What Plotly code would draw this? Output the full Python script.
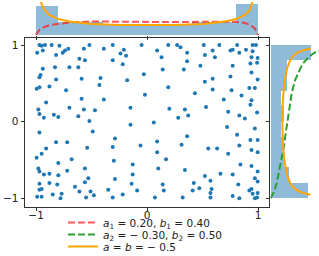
import plotly.graph_objects as go

# ---- scatter sample ----
pts_x = [-0.97,-0.95,-0.92,-0.86,-0.79,-0.52,-0.31,-0.05,-0.71,-0.74,-0.76,-0.94,-0.99,-0.57,-0.39,-0.21,-0.82,-0.24,-0.19,-0.61,
         -0.56,-0.31,-0.22,-0.94,-0.83,-0.70,-0.62,-0.96,-0.97,-0.82,-0.59,-0.42,-0.18,-0.03,-0.43,-0.995,-0.97,-0.88,-0.73,-0.59,
         -0.39,-0.02,-0.91,-0.98,-0.97,-0.93,-0.84,-0.80,-0.70,-0.57,-0.47,-0.62,-0.52,-0.15,
         0.19,0.27,0.30,0.51,0.65,0.81,0.95,0.98,0.09,0.36,0.59,0.75,0.77,0.83,0.89,0.95,0.13,0.52,0.61,0.94,
         0.995,0.36,0.48,0.77,0.93,0.99,0.14,0.33,0.94,0.52,0.59,0.75,0.995,0.19,0.43,0.59,0.76,0.92,0.97,0.85,
         0.69,0.94,0.53,0.93,0.20,0.34,0.28,0.37,0.73,0.83,0.88,0.99,0.06,
         -0.15,-0.97,-0.49,-0.29,-0.82,-0.72,-0.91,-0.54,-0.31,-0.06,-0.95,-0.995,-0.68,-0.30,-0.80,-0.13,-0.98,-0.97,-0.72,-0.56,
         -0.93,-0.88,-0.80,-0.13,-0.53,-0.29,-0.97,-0.88,-0.81,-0.56,-0.14,-0.65,-0.97,-0.95,-0.61,-0.51,-0.35,-0.09,-0.85,-0.77,
         -0.48,-0.22,-0.99,-0.95,-0.78,-0.55,-0.31,
         0.72,0.97,0.36,0.81,0.09,0.31,0.83,0.93,0.995,0.09,0.55,0.63,0.73,0.94,0.995,0.17,0.84,0.94,0.10,0.34,
         0.995,0.52,0.66,0.77,0.57,0.97,0.995,0.42,0.14,0.82,0.15,0.41,0.47,0.58,0.57,0.92,0.94,0.95,0.995,0.07,
         0.32,0.57,0.77,0.83,0.97,0.99]
pts_y = [1.00,0.99,1.00,1.00,0.99,1.00,1.00,1.00,0.95,0.93,0.90,0.93,0.90,0.95,0.95,0.94,0.87,0.89,0.86,0.82,
         0.80,0.80,0.75,0.69,0.71,0.71,0.71,0.61,0.58,0.55,0.56,0.57,0.54,0.62,0.48,0.43,0.45,0.46,0.41,0.30,
         0.29,0.35,0.25,0.16,0.10,0.05,0.09,0.06,0.18,0.16,0.15,0.07,0.01,0.18,
         1.00,1.00,0.97,1.00,1.00,1.00,1.00,1.00,0.93,0.90,0.93,0.93,0.94,0.90,0.94,0.92,0.84,0.87,0.84,0.84,
         0.83,0.79,0.73,0.73,0.76,0.77,0.68,0.68,0.64,0.52,0.56,0.59,0.55,0.45,0.37,0.42,0.41,0.44,0.44,0.34,
         0.29,0.28,0.19,0.22,0.17,0.16,0.05,0.08,0.13,0.08,0.04,0.12,-0.01,
         -0.04,-0.14,-0.13,-0.22,-0.27,-0.27,-0.35,-0.34,-0.33,-0.31,-0.42,-0.47,-0.49,-0.51,-0.54,-0.56,-0.61,-0.65,-0.64,-0.61,
         -0.69,-0.68,-0.70,-0.69,-0.74,-0.75,-0.81,-0.80,-0.82,-0.79,-0.81,-0.85,-0.89,-0.88,-0.91,-0.91,-0.89,-0.90,-0.95,-0.94,
         -0.96,-0.95,-0.98,-0.98,-1.00,-0.99,-0.99,
         -0.07,-0.09,-0.19,-0.17,-0.26,-0.30,-0.31,-0.24,-0.24,-0.40,-0.35,-0.35,-0.42,-0.37,-0.40,-0.49,-0.56,-0.58,-0.61,-0.63,
         -0.65,-0.71,-0.68,-0.69,-0.77,-0.74,-0.78,-0.80,-0.82,-0.82,-0.90,-0.90,-0.87,-0.88,-0.93,-0.90,-0.88,-0.94,-0.93,-0.99,
         -0.99,-0.99,-0.97,-1.00,-1.00,-0.99]

# ---- marginal histograms (density per bin, bins of width 0.2 on [-1, 1]) ----
bin_centers = [-0.9, -0.7, -0.5, -0.3, -0.1, 0.1, 0.3, 0.5, 0.7, 0.9]
bin_width = 0.2
top_hist = [0.98, 0.43, 0.43, 0.33, 0.33, 0.33, 0.33, 0.42, 0.42, 1.02]
right_hist = [1.00, 0.49, 0.35, 0.35, 0.26, 0.36, 0.26, 0.43, 0.43, 1.09]

# ---- density curves ----
red_x = [-1.0, -0.99, -0.97, -0.93, -0.88, -0.8, -0.7, -0.5, -0.25, 0.0, 0.25, 0.5, 0.7, 0.8, 0.88, 0.93, 0.97, 0.99, 1.0]
red_y = [0.0, 0.08, 0.17, 0.26, 0.33, 0.38, 0.42, 0.45, 0.44, 0.43, 0.43, 0.44, 0.45, 0.44, 0.40, 0.33, 0.22, 0.10, 0.0]
orange_top_x = [-0.995, -0.97, -0.95, -0.92, -0.88, -0.8, -0.7, -0.5, -0.25, 0.0, 0.25, 0.5, 0.7, 0.8, 0.88, 0.92, 0.95, 0.97, 0.995]
orange_top_y = [3.2, 1.31, 1.02, 0.81, 0.67, 0.53, 0.45, 0.37, 0.33, 0.32, 0.33, 0.37, 0.45, 0.53, 0.67, 0.81, 1.02, 1.31, 3.2]
green_y = [-1.0, -0.92, -0.8, -0.68, -0.5, -0.33, -0.15, 0.01, 0.2, 0.39, 0.55, 0.65, 0.75, 0.82, 0.87, 0.91, 0.94]
green_d = [0.0, 0.09, 0.17, 0.22, 0.30, 0.36, 0.41, 0.46, 0.51, 0.58, 0.67, 0.76, 0.86, 0.99, 1.10, 1.22, 1.40]
orange_r_y = [-0.955, -0.93, -0.9, -0.85, -0.8, -0.7, -0.5, -0.25, 0.0, 0.25, 0.5, 0.7, 0.8, 0.85, 0.9, 0.93, 0.955]
orange_r_d = [1.08, 0.87, 0.73, 0.60, 0.53, 0.45, 0.37, 0.33, 0.32, 0.33, 0.37, 0.45, 0.53, 0.60, 0.73, 0.87, 1.08]

labels = ["<i>a</i><sub>1</sub> = 0.20, <i>b</i><sub>1</sub> = 0.40",
          "<i>a</i><sub>2</sub> = \u2212 0.30, <i>b</i><sub>2</sub> = 0.50",
          "<i>a</i> = <i>b</i> = \u2212 0.5"]
tick_vals = [-1, 0, 1]

W, H = 319, 256
FONT = "DejaVu Sans"
BLUE = "#1f77b4"
HIST = "rgba(31,119,180,0.5)"
RED = "rgba(255,30,30,0.75)"
GREEN = "#2ca02c"
ORANGE = "#ffa500"

fig = go.Figure()
fig.add_trace(go.Scatter(x=pts_x, y=pts_y, mode="markers", xaxis="x", yaxis="y",
                         marker=dict(color=BLUE, size=4.0, line=dict(width=0)), showlegend=False))
fig.add_trace(go.Bar(x=bin_centers, y=top_hist, width=bin_width, xaxis="x2", yaxis="y2",
                     marker=dict(color=HIST, line=dict(width=0)), showlegend=False))
fig.add_trace(go.Bar(y=bin_centers, x=right_hist, width=bin_width, orientation="h", xaxis="x3", yaxis="y3",
                     marker=dict(color=HIST, line=dict(width=0)), showlegend=False))
fig.add_trace(go.Scatter(x=red_x, y=red_y, mode="lines", xaxis="x2", yaxis="y2", name=labels[0],
                         line=dict(color=RED, width=2, dash="7px,3px"), legend="legend"))
fig.add_trace(go.Scatter(x=orange_top_x, y=orange_top_y, mode="lines", xaxis="x2", yaxis="y2",
                         line=dict(color=ORANGE, width=2), showlegend=False))
fig.add_trace(go.Scatter(x=green_d, y=green_y, mode="lines", xaxis="x3", yaxis="y3", name=labels[1],
                         line=dict(color=GREEN, width=2, dash="7px,3px"), legend="legend2"))
fig.add_trace(go.Scatter(x=orange_r_d, y=orange_r_y, mode="lines", xaxis="x3", yaxis="y3", name=labels[2],
                         line=dict(color=ORANGE, width=2), legend="legend3"))

px_x = lambda p: p / W
px_y = lambda p: 1 - p / H

main_xd = [px_x(25), px_x(269.3)]
main_yd = [px_y(206.7), px_y(38.3)]
axis_common = dict(showgrid=False, zeroline=False, ticks="outside", ticklen=3.5, tickwidth=0.8,
                   tickcolor="#333", tickvals=tick_vals,
                   tickfont=dict(family=FONT, size=10.5, color="#222"))
no_font = {k: v for k, v in axis_common.items() if k != "tickfont"}

legend_common = dict(xref="container", yref="container", xanchor="left", yanchor="middle",
                     x=px_x(63), bgcolor="rgba(0,0,0,0)",
                     font=dict(family=FONT, size=10.5, color="#222"), borderwidth=0)

fig.update_layout(
    width=W, height=H, margin=dict(l=0, r=0, t=0, b=0, autoexpand=False),
    paper_bgcolor="white", plot_bgcolor="white", bargap=0,
    xaxis=dict(domain=main_xd, range=[-1.1, 1.1], anchor="y", showline=True, mirror=True,
               linecolor="#333", linewidth=0.8, ticklabelstandoff=-5, **axis_common),
    yaxis=dict(domain=main_yd, range=[-1.11, 1.088], anchor="x", showline=True, mirror=True,
               linecolor="#333", linewidth=0.8, **axis_common),
    xaxis2=dict(domain=main_xd, matches="x", anchor="y2", showticklabels=False, showline=False, **no_font),
    yaxis2=dict(domain=[px_y(35), px_y(2)], range=[0, 1.1], anchor="x2", visible=False),
    xaxis3=dict(domain=[px_x(270.5), 1.0], range=[0, 1.31], anchor="y3", visible=False),
    yaxis3=dict(domain=main_yd, matches="y", anchor="x3", showticklabels=False, showline=False, **no_font),
    legend=dict(y=px_y(222.5), **legend_common),
    legend2=dict(y=px_y(234.5), **legend_common),
    legend3=dict(y=px_y(246.5), **legend_common),
)

fig.write_html("out.html")
